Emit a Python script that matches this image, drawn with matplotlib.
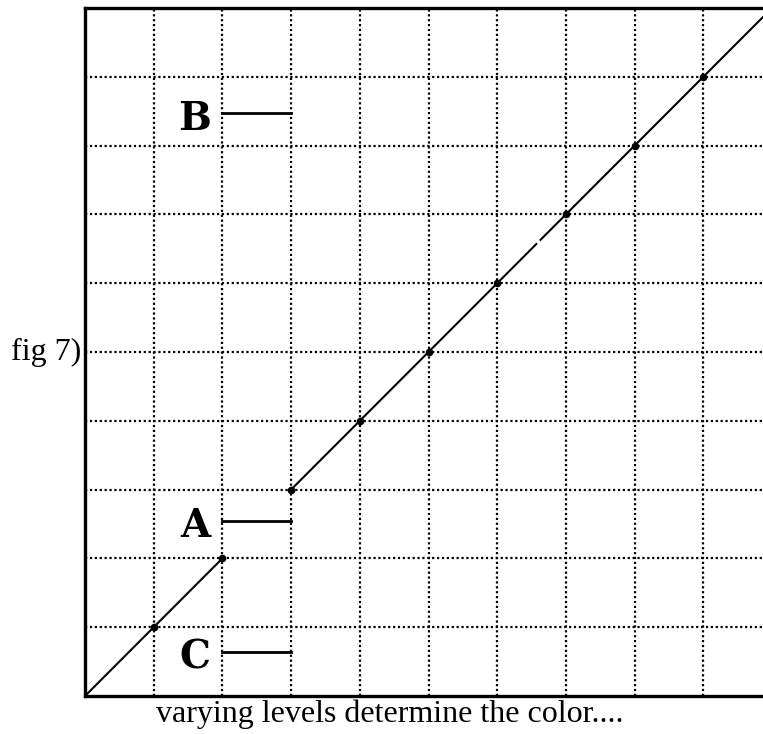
import matplotlib
matplotlib.use("Agg")
import matplotlib.pyplot as plt

# grid levels (0..10 on both axes)
grid_levels = [1, 2, 3, 4, 5, 6, 7, 8, 9]

# diagonal segments (level in -> level out)
seg1_x = [0, 2]
seg1_y = [0, 2]
seg2_x = [3, 6.57]
seg2_y = [3, 6.57]
seg3_x = [6.63, 10]
seg3_y = [6.63, 10]

# dots on the line
dot_x = [1, 2, 3, 4, 5, 6, 7, 8, 9]
dot_y = [1, 2, 3, 4, 5, 6, 7, 8, 9]

# labelled marker lines
mark_labels = ["B", "A", "C"]
mark_y = [8.47, 2.55, 0.64]
mark_x0 = 2
mark_x1 = 3

fig = plt.figure(figsize=(7.63, 7.34), dpi=100)
ax = fig.add_axes([85 / 763, 38 / 734, 687 / 763, 688 / 734])
ax.set_xlim(0, 10)
ax.set_ylim(0, 10)

for g in grid_levels:
    ax.axvline(g, color="black", lw=1.6, ls=(0, (1, 1.2)), zorder=1)
    ax.axhline(g, color="black", lw=1.6, ls=(0, (1, 1.2)), zorder=1)

for xs, ys in [(seg1_x, seg1_y), (seg2_x, seg2_y), (seg3_x, seg3_y)]:
    ax.plot(xs, ys, color="black", lw=1.5, zorder=3)

ax.plot(dot_x, dot_y, "o", color="black", ms=4.5, ls="none", zorder=4)

for lab, y in zip(mark_labels, mark_y):
    ax.plot([mark_x0, mark_x1], [y, y], color="black", lw=2.0, zorder=3)
    ax.text(mark_x0 - 0.17, y - 0.08, lab, ha="right", va="center",
            fontsize=28, family="DejaVu Serif", fontweight="semibold", zorder=5)

ax.set_xticks([])
ax.set_yticks([])
for s in ax.spines.values():
    s.set_linewidth(2.4)
    s.set_color("black")

fig.text(81 / 763, 1 - 352 / 734, "fig 7)", ha="right", va="center",
         fontsize=23, family="Liberation Serif")
fig.text(390 / 763, 1 - 714 / 734, "varying levels determine the color....",
         ha="center", va="center", fontsize=23, family="Liberation Serif")

fig.savefig("out.png", dpi=100)
